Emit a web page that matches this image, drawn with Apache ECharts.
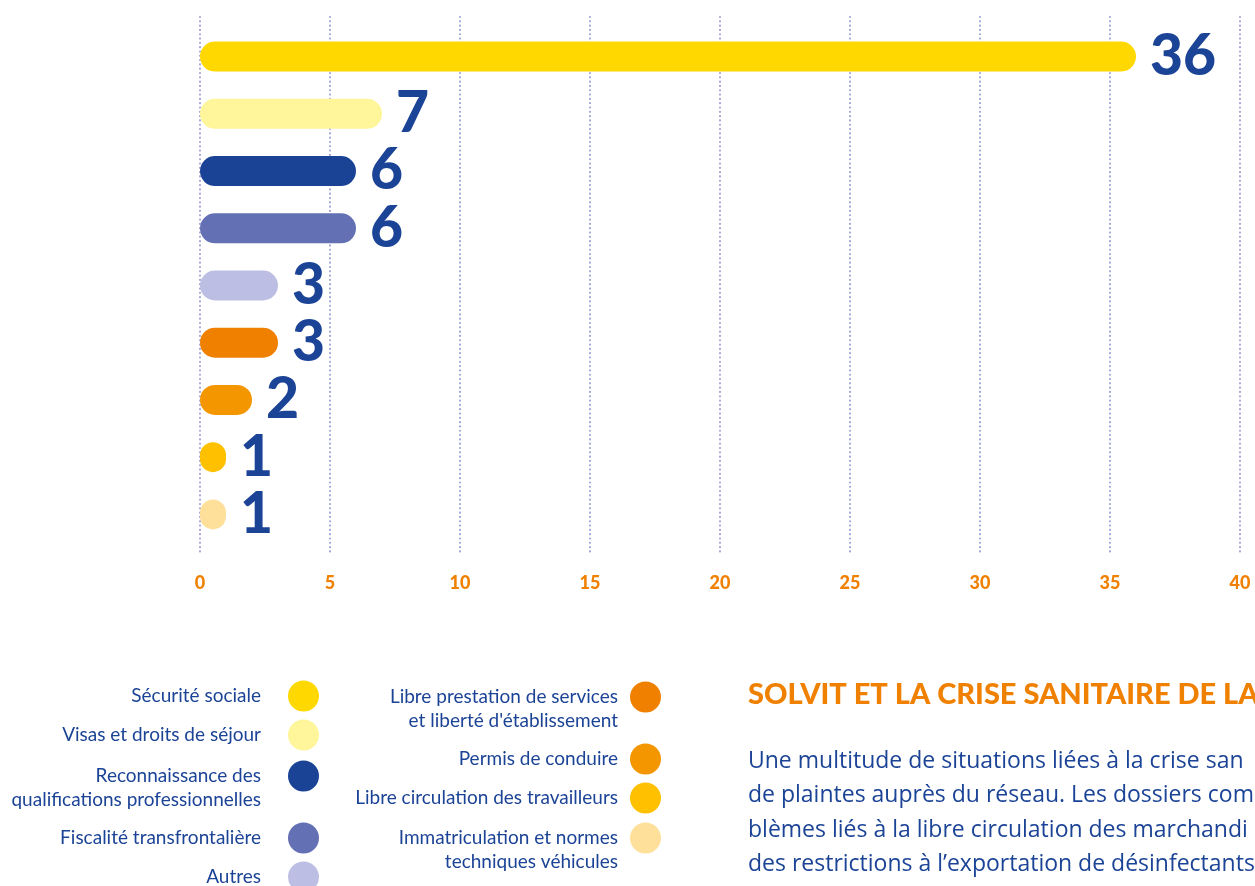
<!DOCTYPE html>
<html>
<head>
<meta charset="utf-8">
<script src="https://cdn.jsdelivr.net/npm/echarts@6/dist/echarts.min.js"></script>
<style>html,body{margin:0;padding:0;background:#fff}#c{width:1255px;height:886px}</style>
</head>
<body>
<div id="c"></div>
<script>
// ---- data ----
const categories = [
  'Sécurité sociale',
  'Visas et droits de séjour',
  'Reconnaissance des qualifications professionnelles',
  'Fiscalité transfrontalière',
  'Autres',
  "Libre prestation de services et liberté d'établissement",
  'Permis de conduire',
  'Libre circulation des travailleurs',
  'Immatriculation et normes techniques véhicules'
];
const legendLabels = [
  'Sécurité sociale',
  'Visas et droits de séjour',
  'Reconnaissance des\nqualifications professionnelles',
  'Fiscalité transfrontalière',
  'Autres',
  "Libre prestation de services\net liberté d'établissement",
  'Permis de conduire',
  'Libre circulation des travailleurs',
  'Immatriculation et normes\ntechniques véhicules'
];
const values = [36, 7, 6, 6, 3, 3, 2, 1, 1];
const colors = ['#FFD800', '#FFF59B', '#1A4396', '#6370B4', '#BCBFE3', '#F08000', '#F39600', '#FFC000', '#FFE09B'];
const tickMin = 0, tickMax = 40, tickStep = 5;
const heading = 'SOLVIT ET LA CRISE SANITAIRE DE LA';
const paragraph = [
  'Une multitude de situations liées à la crise san',
  'de plaintes auprès du réseau. Les dossiers com',
  'blèmes liés à la libre circulation des marchandi',
  'des restrictions à l’exportation de désinfectants'
];

// ---- layout ----
const NAVY = '#1B4396';
const ORANGE = '#F08000';
const legendCol = [0, 0, 0, 0, 0, 1, 1, 1, 1];
const legendCy = [696, 735, 776, 838, 877, 697, 759, 798, 838];
const colRight = [1255 - 319, 1255 - 661];
const colTextGap = [22, 7];
const LH = 24;

const series = categories.map((name, i) => ({
  name: name,
  type: 'bar',
  xAxisIndex: 1,
  yAxisIndex: 1,
  stack: 'all',
  barWidth: 30,
  data: categories.map((c, j) => (j === i ? values[i] : null)),
  itemStyle: { color: colors[i], borderRadius: 15 },
  label: {
    show: true,
    position: 'right',
    distance: 14,
    color: NAVY,
    fontFamily: 'Lato',
    fontWeight: 900,
    fontSize: 57,
    formatter: p => p.value
  },
  emphasis: { disabled: true }
}));

// two-line labels get an empty leading line so the icon aligns with the first text line
const legends = categories.map((name, i) => {
  const two = legendLabels[i].indexOf('\n') >= 0;
  return {
    orient: 'vertical',
    align: 'right',
    right: colRight[legendCol[i]],
    top: legendCy[i] - 15.5 - (two ? 1.5 * LH - 15.5 : 0),
    padding: 0,
    itemWidth: 31,
    itemHeight: 31,
    icon: 'circle',
    selectedMode: false,
    data: [name],
    formatter: n => {
      const t = legendLabels[categories.indexOf(n)];
      return t.indexOf('\n') >= 0 ? '\n' + t : t;
    },
    textStyle: {
      color: NAVY, fontFamily: 'Lato', fontSize: 19, lineHeight: LH,
      padding: [0, colTextGap[legendCol[i]], 0, 0]
    }
  };
});

const chart = echarts.init(document.getElementById('c'), null, { renderer: 'canvas' });
chart.setOption({
  animation: false,
  backgroundColor: '#ffffff',
  grid: [
    { left: 200, right: 15, top: 17, bottom: 886 - 555 },
    { left: 200, right: 15, top: 28, height: 515 }
  ],
  xAxis: [
    {
      gridIndex: 0, type: 'value', min: tickMin, max: tickMax, interval: tickStep,
      axisLine: { show: false }, axisTick: { show: false },
      splitLine: { show: true, lineStyle: { color: '#A3A6D8', width: 2.2, type: [0.01, 4.3], cap: 'round' } },
      axisLabel: { color: ORANGE, fontFamily: 'Lato', fontWeight: 900, fontSize: 18, margin: 19 }
    },
    { gridIndex: 1, type: 'value', min: tickMin, max: tickMax, show: false, splitLine: { show: false } }
  ],
  yAxis: [
    { gridIndex: 0, type: 'value', show: false, splitLine: { show: false } },
    { gridIndex: 1, type: 'category', inverse: true, data: categories, show: false }
  ],
  legend: legends,
  series: series,
  graphic: [
    {
      type: 'text', left: 748, top: 680,
      style: { text: heading, fill: ORANGE, font: '900 29px Lato' }
    },
    {
      type: 'text', left: 748, top: 744,
      style: { text: paragraph.join('\n'), fill: NAVY, font: '23px "Open Sans"', lineHeight: 34.5 }
    }
  ]
});
</script>
</body>
</html>
